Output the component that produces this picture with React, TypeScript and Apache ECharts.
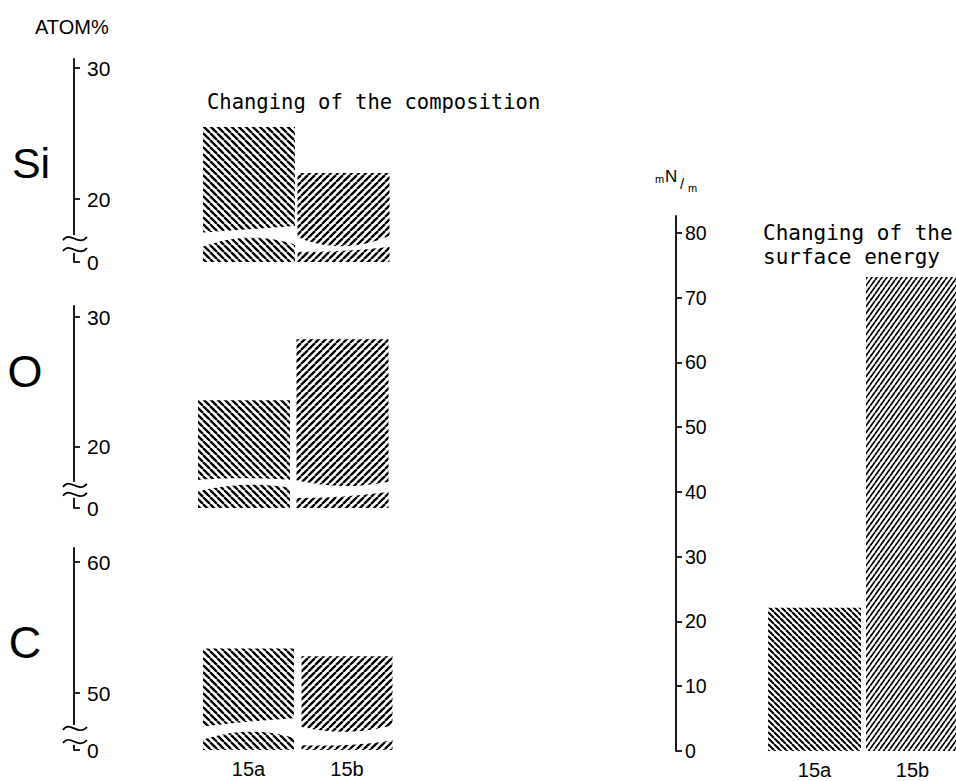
import React, { useEffect, useRef } from 'react';
import * as echarts from 'echarts';

// ---------- data ----------
const categories = ['15a', '15b'];
const siValues = [25.5, 22.0];
const oValues = [23.6, 28.3];
const cValues = [53.4, 52.8];
const surfaceEnergy = [22.1, 73.2];
const siTicks = [20, 30];
const oTicks = [20, 30];
const cTicks = [50, 60];
const energyTicks = [0, 10, 20, 30, 40, 50, 60, 70, 80];
const brokenBaseLabel = '0';

// break band edges in value units: [left, middle, right] per bar
const siBreakUpper = [[17.45, 17.7, 17.96], [17.12, 16.4, 17.25]];
const siBreakLower = [[16.34, 17.06, 16.49], [15.98, 16.05, 16.36]];
const oBreakUpper = [[17.46, 17.6, 17.46], [17.46, 17.0, 17.33]];
const oBreakLower = [[16.56, 17.08, 16.85], [16.08, 16.18, 16.56]];
const cBreakUpper = [[47.43, 47.81, 48.07], [47.43, 47.05, 47.56]];
const cBreakLower = [[46.41, 47.05, 46.54], [46.03, 46.03, 46.41]];

// ---------- styling helpers ----------
function hatch(w: number, h: number, lw: number, dir: '/' | '\\') {
  let d = '';
  for (let k = -1; k <= 1; k++) {
    if (dir === '/') d += `M${k * w} ${h}L${(k + 1) * w} 0`;
    else d += `M${k * w} 0L${(k + 1) * w} ${h}`;
  }
  const svg = `<svg xmlns="http://www.w3.org/2000/svg" width="${w}" height="${h}"><rect width="${w}" height="${h}" fill="#fff"/><path d="${d}" stroke="#000" stroke-width="${lw}" fill="none"/></svg>`;
  return {
    image: 'data:image/svg+xml;charset=utf-8,' + encodeURIComponent(svg),
    repeat: 'repeat',
    imageWidth: w,
    imageHeight: h,
  };
}

const leftA = hatch(7, 7, 2.3, '\\');
const leftB = hatch(7, 7, 2.3, '/');
const rightA = hatch(6, 6, 2.0, '\\');
const rightB = hatch(5, 7, 1.7, '/');

const SANS = 'Liberation Sans';
const MONO = 'DejaVu Sans Mono';

const panels = [
  { values: siValues, ticks: siTicks, min: 15.2, max: 30.7, left: 201.75, top: 59, width: 189, height: 203, axisX: 74, barWidth: 92, upper: siBreakUpper, lower: siBreakLower, axisBreak: [15.88, 17.25], showCats: false, patterns: [leftA, leftB], labelSize: 21, labelMargin: 13 },
  { values: oValues, ticks: oTicks, min: 15.3, max: 30.85, left: 194.75, top: 306, width: 197, height: 202, axisX: 74, barWidth: 92, upper: oBreakUpper, lower: oBreakLower, axisBreak: [16.08, 17.31], showCats: false, patterns: [leftA, leftB], labelSize: 21, labelMargin: 13 },
  { values: cValues, ticks: cTicks, min: 45.65, max: 61.07, left: 199.25, top: 548, width: 197, height: 202, axisX: 74, barWidth: 91, upper: cBreakUpper, lower: cBreakLower, axisBreak: [46.03, 47.56], showCats: true, patterns: [leftA, leftB], labelSize: 21, labelMargin: 13 },
  { values: surfaceEnergy, ticks: energyTicks, min: 0, max: 82.6, left: 765.5, top: 216, width: 196, height: 535, axisX: 676, barWidth: 93, upper: null, lower: null, axisBreak: null, showCats: true, patterns: [rightA, rightB], labelSize: 19.5, labelMargin: 9 },
];

function quad(p: number[], t: number) {
  const [l, m, r] = p;
  return l * 2 * (t - 0.5) * (t - 1) + m * -4 * t * (t - 1) + r * 2 * t * (t - 0.5);
}

function tilde(ax: number, yc: number) {
  return {
    type: 'bezierCurve',
    shape: { x1: ax - 11, y1: yc + 2, cpx1: ax - 4, cpy1: yc - 8, cpx2: ax + 4, cpy2: yc + 9, x2: ax + 13, y2: yc - 1 },
    style: { stroke: '#000', lineWidth: 1.7, fill: 'none' },
  };
}

function buildOption() {
  const grid: any[] = [];
  const xAxis: any[] = [];
  const yAxis: any[] = [];
  const series: any[] = [];

  panels.forEach((p, k) => {
    grid.push({ left: p.left, top: p.top, width: p.width, height: p.height, containLabel: false, outerBoundsMode: 'none' });
    xAxis.push({
      gridIndex: k,
      type: 'category',
      data: categories,
      show: p.showCats,
      axisLine: { show: false },
      axisTick: { show: false },
      splitLine: { show: false },
      axisLabel: { show: p.showCats, color: '#000', fontSize: 20, fontFamily: SANS, margin: 9 },
    });
    const tickVals = [p.min, ...p.ticks.filter((t) => t !== p.min)];
    yAxis.push({
      gridIndex: k,
      type: 'value',
      min: p.min,
      max: p.max,
      position: 'left',
      offset: p.left - p.axisX,
      axisLine: { show: true, onZero: false, lineStyle: { color: '#000', width: 1.8 } },
      axisTick: { show: true, inside: true, length: 6, customValues: tickVals, lineStyle: { color: '#000', width: 1.7 } },
      axisLabel: {
        inside: true,
        margin: p.labelMargin,
        customValues: tickVals,
        color: '#000',
        fontSize: p.labelSize,
        fontFamily: SANS,
        formatter: (v: number) => (Math.abs(v - p.min) < 1e-6 ? brokenBaseLabel : String(v)),
      },
      splitLine: { show: false },
    });
    series.push({
      type: 'bar',
      xAxisIndex: k,
      yAxisIndex: k,
      barWidth: p.barWidth,
      silent: true,
      data: p.values.map((v, i) => ({ value: v, itemStyle: { color: p.patterns[i] } })),
    });
    if (p.upper && p.lower) {
      const upper = p.upper;
      const lower = p.lower;
      const brk = p.axisBreak as number[];
      series.push({
        type: 'custom',
        xAxisIndex: k,
        yAxisIndex: k,
        z: 5,
        silent: true,
        clip: false,
        data: p.values.map((v, i) => [i, v]),
        renderItem: (params: any, api: any) => {
          const i = params.dataIndex;
          const cs = params.coordSys;
          const xc = api.coord([api.value(0), api.value(1)])[0];
          const half = p.barWidth / 2 + 1;
          const n = 20;
          const pts: number[][] = [];
          for (let s = 0; s <= n; s++) {
            const t = s / n;
            pts.push([xc - half + 2 * half * t, api.coord([0, quad(upper[i], t)])[1]]);
          }
          for (let s = n; s >= 0; s--) {
            const t = s / n;
            pts.push([xc - half + 2 * half * t, api.coord([0, quad(lower[i], t)])[1]]);
          }
          const children: any[] = [{ type: 'polygon', shape: { points: pts }, style: { fill: '#fff', stroke: 'none' } }];
          if (i === 0) {
            const ax = cs.x - (p.left - p.axisX);
            const yTop = api.coord([0, brk[1]])[1];
            const yBot = api.coord([0, brk[0]])[1];
            children.push({ type: 'rect', shape: { x: ax - 4, y: yTop, width: 8, height: yBot - yTop }, style: { fill: '#fff', stroke: 'none' } });
            children.push(tilde(ax, yTop + 3));
            children.push(tilde(ax, yBot - 4));
          }
          return { type: 'group', children };
        },
      });
    }
  });

  const txt = (text: string, x: number, y: number, size: number, family: string, align = 'left') => ({
    type: 'text',
    x,
    y,
    silent: true,
    style: { text, fontSize: size, fontFamily: family, fill: '#000', align, verticalAlign: 'middle' },
  });

  const graphic = [
    txt('ATOM%', 35, 27, 20, SANS),
    txt('Si', 31, 163, 43, SANS, 'center'),
    txt('O', 25, 371, 45, SANS, 'center'),
    txt('C', 25, 642, 45, SANS, 'center'),
    txt('Changing of the composition', 207, 102, 20.5, MONO),
    txt('Changing of the', 763, 233, 21, MONO),
    txt('surface energy', 763, 257, 21, MONO),
    txt('m', 655, 179, 11, SANS),
    txt('N', 665, 176, 17, SANS),
    txt('/', 680, 183, 15, SANS),
    txt('m', 688, 188, 11, SANS),
  ];

  return {
    animation: false,
    backgroundColor: '#fff',
    grid,
    xAxis,
    yAxis,
    series,
    graphic,
  };
}

export default function App() {
  const ref = useRef<HTMLDivElement>(null);
  useEffect(() => {
    if (!ref.current) return;
    const chart = echarts.init(ref.current, null, { renderer: 'svg' });
    chart.setOption(buildOption() as any);
    return () => chart.dispose();
  }, []);
  return (
    <div
      ref={ref}
      style={{ position: 'fixed', left: 0, top: 0, width: 956, height: 781, background: '#fff' }}
    />
  );
}
